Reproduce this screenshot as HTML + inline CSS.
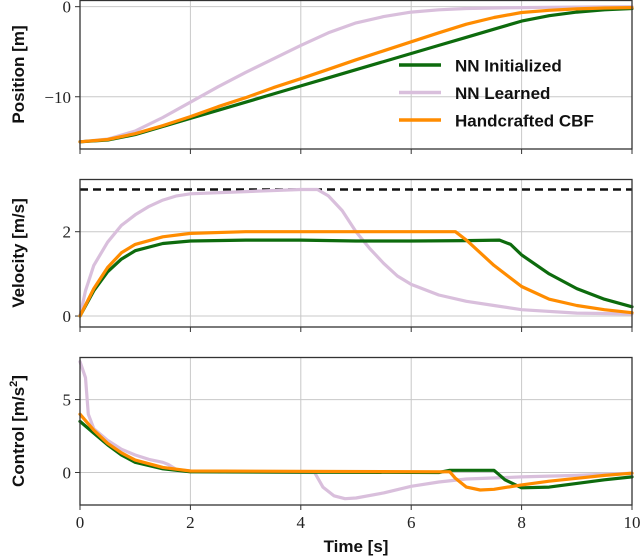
<!DOCTYPE html>
<html><head><meta charset="utf-8"><style>
html,body{margin:0;padding:0;background:#fff;}
svg{display:block;}
</style></head><body>
<svg id="chart" width="640" height="557" xmlns="http://www.w3.org/2000/svg"></svg>
<script>
const tPos=[0,0.5,1,1.5,2,2.5,3,3.5,4,4.5,5,5.5,6,6.5,7,7.5,8,8.5,9,9.5,10];
const posLearned=[-15,-14.7,-13.8,-12.3,-10.6,-8.9,-7.3,-5.8,-4.3,-2.9,-1.8,-1.1,-0.6,-0.35,-0.2,-0.15,-0.1,-0.07,-0.05,-0.02,0];
const posInit=[-15,-14.8,-14.2,-13.3,-12.4,-11.5,-10.6,-9.7,-8.8,-7.9,-7.0,-6.1,-5.2,-4.3,-3.4,-2.5,-1.6,-1.0,-0.6,-0.35,-0.2];
const posHand=[-15,-14.75,-14.1,-13.2,-12.2,-11.1,-10.1,-9.0,-8.0,-6.95,-5.9,-4.9,-3.9,-2.9,-1.95,-1.2,-0.65,-0.4,-0.25,-0.15,-0.1];

const tVelL=[0,0.1,0.25,0.5,0.75,1,1.25,1.5,1.75,2,3,4,4.3,4.5,4.75,5,5.25,5.5,5.75,6,6.5,7,7.5,8,9,10];
const velLearned=[0,0.6,1.2,1.75,2.15,2.4,2.6,2.75,2.85,2.9,2.95,3.0,3.0,2.85,2.5,2.0,1.6,1.25,0.95,0.75,0.5,0.35,0.25,0.15,0.07,0.05];
const tVelI=[0,0.25,0.5,0.75,1,1.5,2,3,4,5,6,7,7.6,7.8,8,8.5,9,9.5,10];
const velInit=[0,0.6,1.05,1.35,1.55,1.72,1.78,1.8,1.8,1.78,1.78,1.79,1.8,1.7,1.45,1.0,0.65,0.4,0.22];
const tVelH=[0,0.25,0.5,0.75,1,1.5,2,3,6.8,7,7.5,8,8.5,9,9.5,10];
const velHand=[0,0.65,1.15,1.5,1.7,1.88,1.96,2.0,2.0,1.8,1.2,0.7,0.4,0.25,0.15,0.08];
const velLimit=3;

const tCtlL=[0,0.1,0.15,0.25,0.5,0.75,1,1.25,1.5,1.6,1.75,2,3,4.25,4.4,4.6,4.8,5,5.5,6,6.5,7,8,9,10];
const ctlLearned=[7.6,6.5,4,3.0,2.2,1.6,1.2,0.9,0.7,0.55,0.2,0.1,0.05,0,-1.0,-1.6,-1.8,-1.75,-1.4,-0.95,-0.65,-0.45,-0.3,-0.2,-0.05];
const tCtlI=[0,0.25,0.5,0.75,1,1.5,2,6.5,6.7,7.5,7.7,8,8.5,9,9.5,10];
const ctlInit=[3.5,2.7,1.9,1.2,0.7,0.25,0.05,0,0.15,0.15,-0.5,-1.05,-1.0,-0.75,-0.5,-0.3];
const tCtlH=[0,0.25,0.5,0.75,1,1.5,2,6.7,6.8,7,7.25,7.5,8,8.5,9,9.5,10];
const ctlHand=[4.0,2.9,2.0,1.35,0.85,0.35,0.1,0.05,-0.4,-1.0,-1.2,-1.15,-0.85,-0.6,-0.4,-0.2,-0.05];

const xTicks=[0,2,4,6,8,10];
const GREEN='#0d6b0d',LILAC='#d9bfdc',ORANGE='#ff8c00';
const svg=document.getElementById('chart');
const NS='http://www.w3.org/2000/svg';
function mk(tag,attrs,parent){const e=document.createElementNS(NS,tag);for(const k in attrs)e.setAttribute(k,attrs[k]);(parent||svg).appendChild(e);return e;}
const X0=80,X1=632;
function sx(t){return X0+(X1-X0)*t/10;}

const panels=[
 {name:'position',top:0,bottom:149,ymin:-15.8,ymax:0.74,yticks:[0,-10],ylabels:['0','\u221210'],title:'Position [m]',
  series:[[tPos,posLearned,LILAC,'learned'],[tPos,posInit,GREEN,'initialized'],[tPos,posHand,ORANGE,'handcrafted']]},
 {name:'velocity',top:179,bottom:327,ymin:-0.26,ymax:3.25,yticks:[0,2],ylabels:['0','2'],title:'Velocity [m/s]',
  series:[[tVelL,velLearned,LILAC,'learned'],[tVelI,velInit,GREEN,'initialized'],[tVelH,velHand,ORANGE,'handcrafted']]},
 {name:'control',top:357,bottom:505,ymin:-2.23,ymax:7.92,yticks:[0,5],ylabels:['0','5'],title:'Control',
  series:[[tCtlL,ctlLearned,LILAC,'learned'],[tCtlI,ctlInit,GREEN,'initialized'],[tCtlH,ctlHand,ORANGE,'handcrafted']]}
];

panels.forEach((p,pi)=>{
  const g=mk('g',{});
  
  
  const sy=v=>p.bottom-(v-p.ymin)/(p.ymax-p.ymin)*(p.bottom-p.top);
  xTicks.forEach(t=>{
    if(t>0&&t<10){const l=mk('line',{x1:sx(t),x2:sx(t),y1:p.top,y2:p.bottom,stroke:'#c8c8c8','stroke-width':1},g);
      }
    const tk=mk('line',{x1:sx(t),x2:sx(t),y1:p.bottom,y2:p.bottom+5,stroke:'#333','stroke-width':1},g);
    
  });
  p.yticks.forEach((v,i)=>{
    const l=mk('line',{x1:X0,x2:X1,y1:sy(v),y2:sy(v),stroke:'#c8c8c8','stroke-width':1},g);
    
    const tk=mk('line',{x1:X0-5,x2:X0,y1:sy(v),y2:sy(v),stroke:'#333','stroke-width':1},g);
    
    const tx=mk('text',{x:X0-9,y:sy(v)+6,'text-anchor':'end','font-family':'Liberation Serif, serif','font-size':17,fill:'#222'},g);
    tx.textContent=p.ylabels[i];
    
  });
  if(p.name==='velocity'){
    const d=mk('line',{x1:X0,x2:X1,y1:sy(velLimit),y2:sy(velLimit),stroke:'#111','stroke-width':2.5,'stroke-dasharray':'8,5'},g);
    
  }
  p.series.forEach(s=>{
    const pts=s[0].map((t,i)=>sx(t).toFixed(1)+','+sy(s[1][i]).toFixed(1)).join(' ');
    const pl=mk('polyline',{points:pts,fill:'none',stroke:s[2],'stroke-width':3.2,'stroke-linejoin':'round','stroke-linecap':'round'},g);
    
  });
  const fr=mk('rect',{x:X0,y:p.top+0.5,width:X1-X0,height:p.bottom-p.top-0.5,fill:'none',stroke:'#333','stroke-width':1.3},g);
  
  const cy=(p.top+p.bottom)/2;
  const yl=mk('text',{x:0,y:0,transform:`translate(24,${cy}) rotate(-90)`,'text-anchor':'middle','font-family':'Liberation Sans, sans-serif','font-weight':'bold','font-size':17,fill:'#111'},g);
  if(p.name==='control'){yl.innerHTML='Control [m/s<tspan dy="-7" font-size="11">2</tspan><tspan dy="7">]</tspan>';}
  else yl.textContent=p.title;
  
});

xTicks.forEach(t=>{
  const tx=mk('text',{x:sx(t),y:528,'text-anchor':'middle','font-family':'Liberation Serif, serif','font-size':17,fill:'#222'});
  tx.textContent=String(t);
  
  
});
const xt=mk('text',{x:356,y:552,'text-anchor':'middle','font-family':'Liberation Sans, sans-serif','font-weight':'bold','font-size':17,fill:'#111'});
xt.textContent='Time [s]';



const legNames=['NN Initialized','NN Learned','Handcrafted CBF'];
const legColors=[GREEN,LILAC,ORANGE];
const lg=mk('g',{});


legNames.forEach((n,i)=>{
  const y=65+i*27.5;
  const e=mk('g',{},lg);
  
  
  mk('line',{x1:399,x2:441,y1:y,y2:y,stroke:legColors[i],'stroke-width':3.5},e);
  const tx=mk('text',{x:455,y:y+6.5,'font-family':'Liberation Sans, sans-serif','font-weight':'bold','font-size':17,fill:'#111'},e);
  tx.textContent=n;
});
</script>
</body></html>
